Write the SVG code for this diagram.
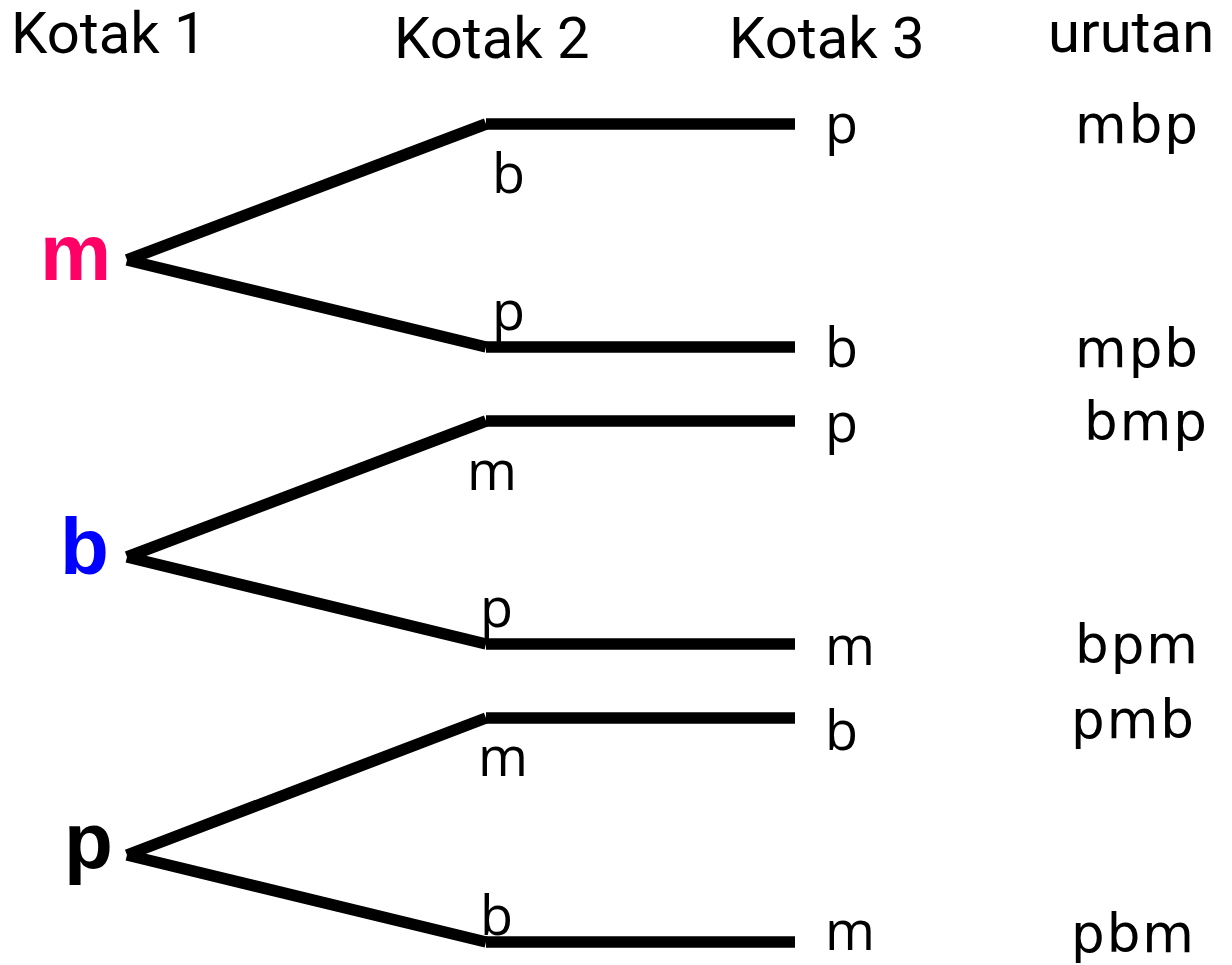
<svg xmlns="http://www.w3.org/2000/svg" width="1232" height="965" viewBox="0 0 1232 965">
<style>
.hdr{font-family:Roboto,"Liberation Sans",sans-serif;font-size:58px;fill:#000}
.lbl{font-family:"Open Sans","DejaVu Sans",sans-serif;font-size:54px;fill:#000}
.seq{font-family:"DejaVu Sans","Open Sans",sans-serif;font-size:53px;fill:#000;letter-spacing:2px}
.root{font-family:"Liberation Sans",Arial,sans-serif;font-size:80px;font-weight:bold}
.ln{stroke:#000;stroke-width:11.5;fill:none;stroke-linecap:butt}
</style>
<rect width="1232" height="965" fill="#fff"/>
<g id="headers">
<text class="hdr" x="11" y="53">Kotak 1</text>
<text class="hdr" x="394" y="58">Kotak 2</text>
<text class="hdr" x="729" y="58">Kotak 3</text>
<text class="hdr" x="1048" y="52">urutan</text>
</g>
<g id="connectors">
<line class="ln" x1="127" y1="260" x2="486" y2="124"/>
<line class="ln" x1="486" y1="124" x2="795" y2="124"/>
<line class="ln" x1="127" y1="260" x2="486" y2="347"/>
<line class="ln" x1="486" y1="347" x2="795" y2="347"/>
<line class="ln" x1="127" y1="557" x2="486" y2="421"/>
<line class="ln" x1="486" y1="421" x2="795" y2="421"/>
<line class="ln" x1="127" y1="557" x2="486" y2="644"/>
<line class="ln" x1="486" y1="644" x2="795" y2="644"/>
<line class="ln" x1="127" y1="855" x2="486" y2="718"/>
<line class="ln" x1="486" y1="718" x2="795" y2="718"/>
<line class="ln" x1="127" y1="855" x2="486" y2="942"/>
<line class="ln" x1="486" y1="942" x2="795" y2="942"/>
</g>
<g id="node-m"><text class="root" x="40" y="280" fill="#FF0066">m</text></g>
<g id="node-b"><text class="root" x="60" y="574" fill="#0000FF">b</text></g>
<g id="node-p"><text class="root" x="64" y="868" fill="#000">p</text></g>
<g id="kotak2-labels">
<text class="lbl" x="492" y="193">b</text>
<text class="lbl" x="492" y="330">p</text>
<text class="lbl" x="467" y="490">m</text>
<text class="lbl" x="480" y="627">p</text>
<text class="lbl" x="478" y="776">m</text>
<text class="lbl" x="480" y="935">b</text>
</g>
<g id="kotak3-labels">
<text class="lbl" x="825" y="143">p</text>
<text class="lbl" x="825" y="367">b</text>
<text class="lbl" x="825" y="442">p</text>
<text class="lbl" x="825" y="665">m</text>
<text class="lbl" x="825" y="750">b</text>
<text class="lbl" x="825" y="950">m</text>
</g>
<g id="urutan">
<text class="seq" x="1075" y="143">mbp</text>
<text class="seq" x="1075" y="367">mpb</text>
<text class="seq" x="1084" y="440">bmp</text>
<text class="seq" x="1075" y="663">bpm</text>
<text class="seq" x="1071" y="738">pmb</text>
<text class="seq" x="1071" y="952">pbm</text>
</g>
</svg>
